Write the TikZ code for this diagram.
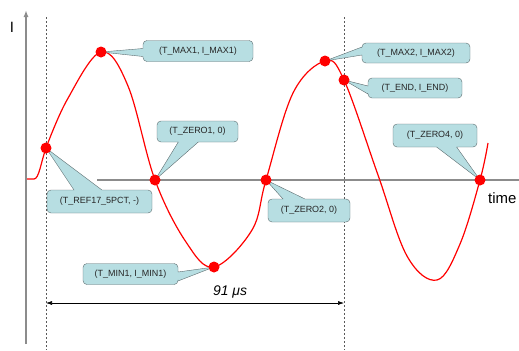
\documentclass[tikz,border=0pt]{standalone}
\usepackage{fontspec}
\setmainfont{Liberation Sans}
\usetikzlibrary{arrows.meta,shapes.callouts}
\definecolor{CallFill}{HTML}{B7DEE2}
\definecolor{CallEdge}{HTML}{5C6B6E}
\definecolor{AxisGray}{HTML}{8C8C8C}
\definecolor{CurveRed}{HTML}{FF0000}

\begin{document}
\begin{tikzpicture}[x=1bp, y=-1bp, every node/.style={font=\fontsize{9}{10}\selectfont},
    callbox/.style={rectangle callout, draw=CallEdge, fill=CallFill, rounded corners=4bp, inner sep=1bp, minimum height=21bp, text=black!85},
    redpt/.style={circle, fill=CurveRed, inner sep=0pt, minimum size=11bp}]
    \useasboundingbox (0,0) rectangle (519,350);
    % axes and markers
    \coordinate (ybot) at (26,344);
    \coordinate (ytop) at (26,10);
    \coordinate (tleft) at (97,180);
    \coordinate (tright) at (519,180);
    \draw[AxisGray, line width=1.4bp, -{Latex[length=7bp,width=5bp]}] (ybot) -- (ytop);
    \draw[AxisGray, line width=1.2bp] (tleft) -- (tright);
    \draw[black!65, line width=0.7bp, dash pattern=on 2bp off 2bp] (46,17) -- (46,350);
    \draw[black!65, line width=0.7bp, dash pattern=on 2bp off 2bp] (344,17) -- (344,350);
    \node[font=\fontsize{15}{15}\selectfont] (ilab) at (12,27) {I};
    \node[font=\fontsize{15}{15}\selectfont, anchor=west, inner sep=0pt] (tlab) at (488,198) {time};
    % points on the curve
    \coordinate (ref) at (46,148);
    \coordinate (max1) at (101,52);
    \coordinate (zero1) at (155,180);
    \coordinate (min1) at (214,267);
    \coordinate (zero2) at (266,180);
    \coordinate (max2) at (325,61);
    \coordinate (tend) at (344,80);
    \coordinate (zero4) at (480,180);
    \draw[CurveRed, line width=1.2bp] (27,179) -- (34,179)
      .. controls (39,179) and (41,162) .. (ref)
      plot[smooth, tension=0.6] coordinates {(ref) (67,100) (max1) (128,86) (zero1) (186,242) (min1) (252,230) (zero2) (293,93) (max2) (tend) (378,175) (407,256) (437,280) (460,244) (zero4) (488,143)};
    % callouts
    \node[callbox, minimum width=110bp, callout absolute pointer={(max1)}, callout pointer width=8bp] (cmax1) at (198,51) {(T\_MAX1, I\_MAX1)};
    \node[callbox, minimum width=81bp, callout absolute pointer={(zero1)}, callout pointer width=20bp] (czero1) at (197.5,131.5) {(T\_ZERO1, 0)};
    \node[callbox, minimum width=105bp, minimum height=23bp, callout absolute pointer={(ref)}, callout pointer width=28bp] (cref) at (99.5,201.5) {(T\_REF17\_5PCT, -)};
    \node[callbox, minimum width=95bp, callout absolute pointer={(min1)}, callout pointer width=9bp] (cmin1) at (130.5,274) {(T\_MIN1, I\_MIN1)};
    \node[callbox, minimum width=82bp, minimum height=23bp, callout absolute pointer={(zero2)}, callout pointer width=22bp] (czero2) at (309,210.5) {(T\_ZERO2, 0)};
    \node[callbox, minimum width=108bp, minimum height=20bp, callout absolute pointer={(max2)}, callout pointer width=8bp] (cmax2) at (416,53) {(T\_MAX2, I\_MAX2)};
    \node[callbox, minimum width=94bp, minimum height=20bp, callout absolute pointer={(tend)}, callout pointer width=8bp] (cend) at (415,88) {(T\_END, I\_END)};
    \node[callbox, minimum width=84bp, minimum height=23bp, callout absolute pointer={(zero4)}, callout pointer width=20bp] (czero4) at (435,135.5) {(T\_ZERO4, 0)};
    % dots
    \foreach \p in {ref,max1,zero1,min1,zero2,max2,tend,zero4}
      \node[redpt] (dot-\p) at (\p) {};
    % duration
    \coordinate (dleft) at (46,303);
    \coordinate (dright) at (344,303);
    \draw[line width=0.6bp, {Latex[length=6bp,width=4bp]}-{Latex[length=6bp,width=4bp]}] (dleft) -- (dright);
    \node[font=\fontsize{14}{14}\selectfont\itshape] (dlab) at (230,292) {91 μs};
  \end{tikzpicture}
\end{document}
